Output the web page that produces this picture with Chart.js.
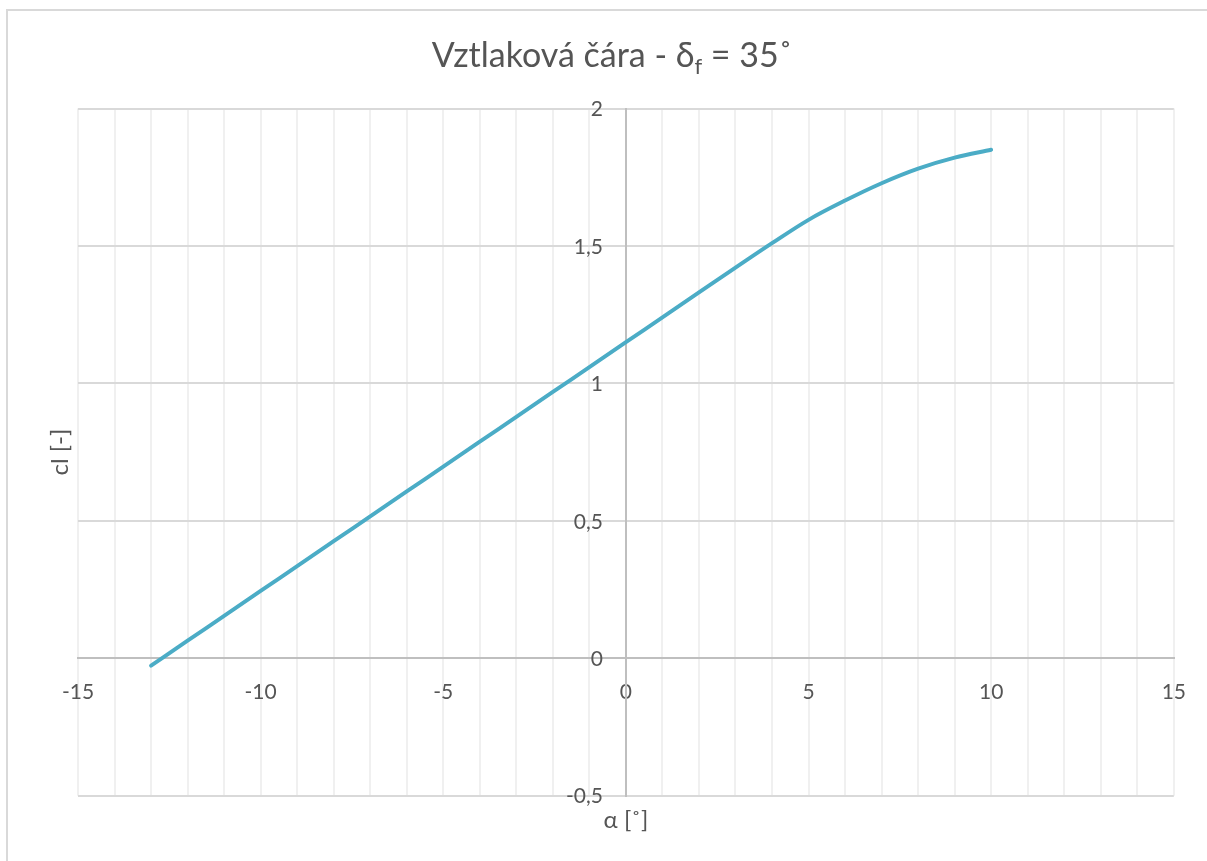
<!DOCTYPE html>
<html>
<head>
<meta charset="utf-8">
<script src="https://cdn.jsdelivr.net/npm/chart.js@4.4.0/dist/chart.umd.min.js"></script>
<style>
  html, body { margin: 0; padding: 0; background: #ffffff; }
  #wrap { width: 1207px; height: 861px; position: relative; }
</style>
</head>
<body>
<div id="wrap"><canvas id="c" width="1207" height="861"></canvas></div>
<script>
// Angle of attack [deg] and lift coefficient cl [-]
const alpha = [-13, -12, -11, -10, -9, -8, -7, -6, -5, -4, -3, -2, -1, 0, 1, 2, 3, 4, 5, 6, 7, 8, 9, 10];
const cl = [-0.027, 0.064, 0.154, 0.245, 0.335, 0.426, 0.516, 0.607, 0.697, 0.788, 0.878, 0.969, 1.059,
            1.150, 1.240, 1.331, 1.421, 1.510, 1.595, 1.665, 1.728, 1.781, 1.821, 1.850];

// Labelled ticks on each axis
const xTickLabels = [-15, -10, -5, 0, 5, 10, 15];
const yTickLabels = [-0.5, 0, 0.5, 1, 1.5, 2];

const titleMain = 'Vztlaková čára - δ';
const titleSub = 'f';
const titleRest = ' = 35˚';
const xAxisTitle = 'α [˚]';
const yAxisTitle = 'cl [-]';

const FONT = 'Lato, "Open Sans", sans-serif';
const TEXT = '#555555';
const TICK_SIZE = 21;

const decorations = {
  id: 'decorations',
  beforeDraw(chart) {
    const ctx = chart.ctx;
    ctx.save();
    ctx.strokeStyle = '#d9d9d9';
    ctx.lineWidth = 2;
    ctx.strokeRect(7, 10, 1400, 1000);
    ctx.restore();
  },
  afterDraw(chart) {
    const ctx = chart.ctx;
    const area = chart.chartArea;
    const xs = chart.scales.x, ys = chart.scales.y;
    ctx.save();
    ctx.fillStyle = TEXT;
    ctx.textBaseline = 'alphabetic';

    // chart title with subscript
    const big = '34px ' + FONT, small = '22px ' + FONT;
    ctx.font = big;
    const w1 = ctx.measureText(titleMain).width;
    const w3 = ctx.measureText(titleRest).width;
    ctx.font = small;
    const w2 = ctx.measureText(titleSub).width;
    let x = 612 - (w1 + w2 + w3) / 2;
    const base = 67;
    ctx.textAlign = 'left';
    ctx.font = big;
    ctx.fillText(titleMain, x, base);
    x += w1;
    ctx.font = small;
    ctx.fillText(titleSub, x, base + 7);
    x += w2;
    ctx.font = big;
    ctx.fillText(titleRest, x, base);

    // value labels of the y axis, placed left of the axis line at x = 0
    ctx.font = TICK_SIZE + 'px ' + FONT;
    ctx.textAlign = 'right';
    ctx.textBaseline = 'middle';
    const axisX = xs.getPixelForValue(0);
    yTickLabels.forEach(v => {
      ctx.fillText(String(v).replace('.', ','), axisX - 23, ys.getPixelForValue(v) + 1);
    });

    // axis titles
    ctx.font = '24px ' + FONT;
    ctx.textAlign = 'center';
    ctx.fillText(xAxisTitle, (area.left + area.right) / 2, 820);
    ctx.translate(60, (area.top + area.bottom) / 2);
    ctx.rotate(-Math.PI / 2);
    ctx.fillText(yAxisTitle, 0, 0);
    ctx.restore();
  }
};

new Chart(document.getElementById('c'), {
  type: 'line',
  data: {
    datasets: [{
      data: alpha.map((a, i) => ({ x: a, y: cl[i] })),
      borderColor: '#4bacc6',
      borderWidth: 3.9,
      borderCapStyle: 'round',
      pointRadius: 0,
      cubicInterpolationMode: 'monotone',
      fill: false
    }]
  },
  options: {
    responsive: false,
    animation: false,
    devicePixelRatio: 1,
    layout: { padding: { left: 78, top: 108.5, right: 31.5, bottom: 65.3 } },
    plugins: { legend: { display: false }, title: { display: false }, tooltip: { enabled: false } },
    scales: {
      x: {
        type: 'linear',
        position: { y: 0 },
        min: -15, max: 15,
        grid: { color: '#f0f0f0', lineWidth: 2, drawTicks: false },
        border: { color: '#bfbfbf', width: 2 },
        ticks: {
          stepSize: 1,
          autoSkip: false,
          maxRotation: 0,
          padding: 21,
          color: TEXT,
          font: { family: FONT, size: TICK_SIZE },
          callback: v => xTickLabels.includes(v) ? String(v) : ''
        }
      },
      y: {
        type: 'linear',
        position: { x: 0 },
        min: -0.5, max: 2,
        grid: { color: '#d9d9d9', lineWidth: 2, drawTicks: false },
        border: { color: '#bfbfbf', width: 2 },
        ticks: { stepSize: 0.5, display: false }
      }
    }
  },
  plugins: [decorations]
});
</script>
</body>
</html>
